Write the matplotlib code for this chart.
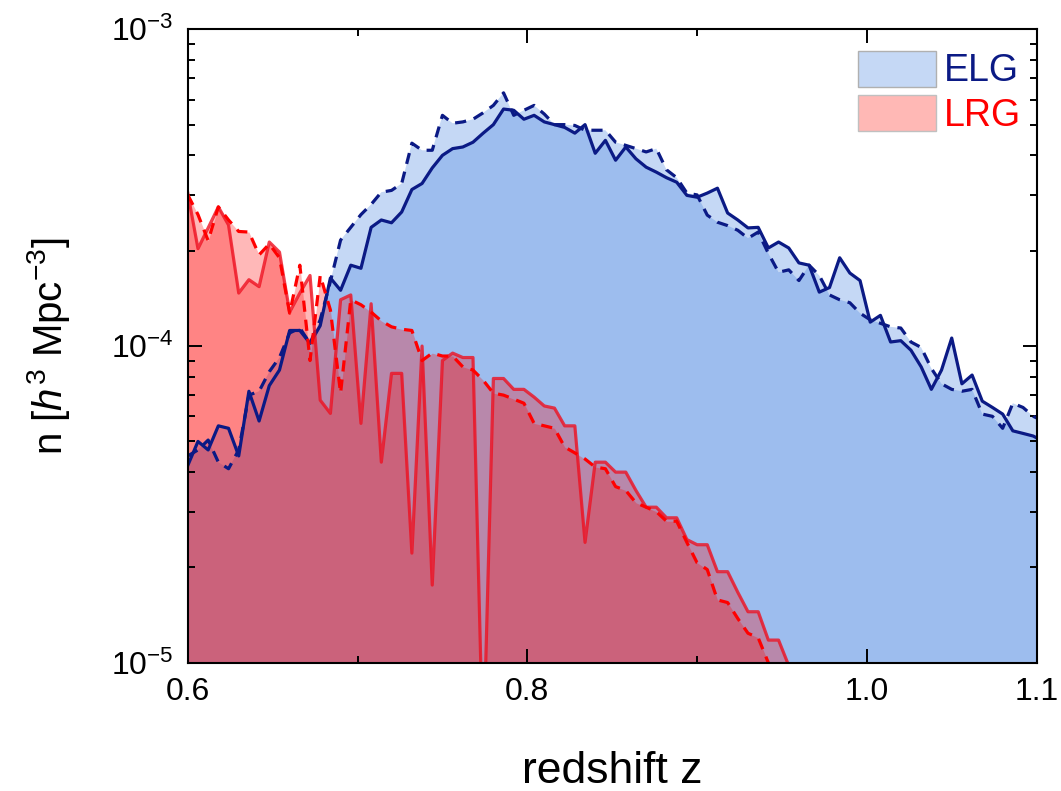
import numpy as np
import matplotlib
matplotlib.use("Agg")
import matplotlib.pyplot as plt
from matplotlib.patches import Patch
from matplotlib.ticker import FixedLocator, NullFormatter

plt.rcParams['font.family'] = ['Liberation Sans', 'DejaVu Sans']
plt.rcParams['mathtext.fontset'] = 'custom'
plt.rcParams['mathtext.rm'] = 'Liberation Sans'
plt.rcParams['mathtext.it'] = 'Liberation Sans:italic'

# redshift grid (bin width 0.006)
z = np.round(0.6 + 0.006 * np.arange(85), 4)

# number densities in units of 1e-4 h^3 Mpc^-3
elg_solid = [0.42, 0.50, 0.47, 0.56, 0.55, 0.45, 0.72, 0.58, 0.75, 0.84,
             1.12, 1.12, 1.02, 1.16, 1.64, 1.50, 1.80, 1.76, 2.37, 2.50,
             2.45, 2.65, 3.12, 3.26, 3.65, 4.00, 4.20, 4.25, 4.40, 4.70,
             5.00, 5.60, 5.55, 5.20, 5.35, 5.10, 5.00, 4.90, 4.70, 5.00,
             4.06, 4.46, 3.86, 4.25, 3.90, 3.67, 3.54, 3.40, 3.29, 2.99,
             2.95, 3.04, 3.15, 2.63, 2.50, 2.36, 2.37, 2.04, 2.13, 2.04,
             1.83, 1.80, 1.48, 1.53, 1.90, 1.70, 1.61, 1.19, 1.25, 1.03,
             1.04, 0.97, 0.86, 0.73, 0.84, 1.06, 0.76, 0.81, 0.67, 0.64,
             0.61, 0.54, 0.53, 0.52, 0.50]
elg_dash = [0.45, 0.47, 0.505, 0.43, 0.41, 0.47, 0.70, 0.72, 0.83, 0.92,
            1.10, 1.14, 1.02, 1.21, 1.60, 2.16, 2.37, 2.60, 2.80, 3.06,
            3.10, 3.26, 4.37, 4.15, 4.15, 5.35, 5.05, 5.10, 5.20, 5.45,
            5.75, 6.30, 5.35, 5.55, 5.75, 5.40, 5.00, 5.00, 4.97, 4.80,
            4.80, 4.80, 4.40, 4.30, 4.20, 4.10, 4.20, 3.60, 3.40, 3.04,
            3.00, 2.59, 2.46, 2.40, 2.32, 2.19, 2.29, 1.96, 1.71, 1.74,
            1.61, 1.80, 1.67, 1.45, 1.40, 1.37, 1.27, 1.21, 1.18, 1.15,
            1.14, 1.03, 0.99, 0.85, 0.76, 0.73, 0.72, 0.73, 0.61, 0.60,
            0.55, 0.66, 0.64, 0.60, 0.58]
lrg_solid = [3.04, 2.03, 2.36, 2.75, 2.41, 1.47, 1.62, 1.54, 2.13, 1.98,
             1.28, 1.47, 1.67, 0.675, 0.613, 1.40, 1.45, 0.57, 1.36, 0.43,
             0.82, 0.82, 0.222, 1.00, 0.176, 0.90, 0.95, 0.92, 0.92, 0.05,
             0.79, 0.79, 0.73, 0.73, 0.69, 0.647, 0.637, 0.56, 0.56, 0.24,
             0.43, 0.43, 0.40, 0.40, 0.35, 0.31, 0.31, 0.287, 0.287, 0.245,
             0.236, 0.236, 0.194, 0.194, 0.167, 0.145, 0.145, 0.118, 0.118, 0.098,
             0.085, 0.07, 0.06]
lrg_dash = [3.00, 2.60, 2.15, 2.75, 2.50, 2.30, 2.29, 1.94, 2.10, 1.90,
            1.27, 1.80, 0.90, 1.67, 1.30, 0.71, 1.40, 1.35, 1.28, 1.20,
            1.15, 1.13, 1.12, 0.90, 0.95, 0.93, 0.93, 0.86, 0.84, 0.78,
            0.71, 0.70, 0.68, 0.66, 0.57, 0.56, 0.55, 0.48, 0.46, 0.44,
            0.415, 0.41, 0.36, 0.35, 0.32, 0.31, 0.30, 0.28, 0.28, 0.24,
            0.207, 0.197, 0.158, 0.155, 0.138, 0.124, 0.12, 0.10, 0.095, 0.10,
            0.085, 0.07, 0.06]

scale = 1e-4
floor = 1e-6

fig = plt.figure(figsize=(10.61, 7.91), dpi=100)
ax = fig.add_axes([0.177, 0.162, 0.8, 0.801])

elg_col = '#4481df'
line_elg = '#0b1a85'
lrg_col = '#ff0000'

ze = z[:len(elg_solid)]
zl = z[:len(lrg_solid)]
es = np.array(elg_solid) * scale
ed = np.array(elg_dash) * scale
ls = np.array(lrg_solid) * scale
ld = np.array(lrg_dash) * scale

# ELG
ax.fill_between(ze, ed, floor, color=elg_col, alpha=0.31, lw=0)
ax.fill_between(ze, es, floor, color=elg_col, alpha=0.31, lw=0)
ax.plot(ze, es, color=line_elg, lw=2.3)
ax.plot(ze, ed, color=line_elg, lw=2.3, ls=(0, (3.5, 2.5)))

# LRG
ax.fill_between(zl, ld, floor, color=lrg_col, alpha=0.28, lw=0)
ax.fill_between(zl, ls, floor, color=lrg_col, alpha=0.28, lw=0)
ax.plot(zl, ls, color='#ee1020', lw=2.3, alpha=0.8)
ax.plot(zl, ld, color=lrg_col, lw=2.3, ls=(0, (3.5, 2.5)))

ax.set_yscale('log')
ax.set_xlim(0.6, 1.1)
ax.set_ylim(1e-5, 1e-3)

ax.set_xticks([0.6, 0.8, 1.0, 1.1])
ax.set_xticklabels(['0.6', '0.8', '1.0', '1.1'])
ax.xaxis.set_minor_locator(FixedLocator([0.7, 0.9]))
ax.yaxis.set_minor_formatter(NullFormatter())

ax.tick_params(which='both', direction='in', top=True, right=True,
               labelsize=23, width=1.4, pad=10)
ax.tick_params(which='major', length=10)
ax.tick_params(which='minor', length=5)
for s in ax.spines.values():
    s.set_linewidth(1.5)

ax.set_xlabel('redshift z', fontsize=32, labelpad=32)
ax.set_ylabel('n [$h^3$ Mpc$^{-3}$]', fontsize=29, labelpad=28)

handles = [Patch(facecolor='#c5d8f5', edgecolor='#b0b0b0', lw=1),
           Patch(facecolor='#ffb8b5', edgecolor='#c0c0c0', lw=1)]
leg = ax.legend(handles, ['ELG', 'LRG'], loc='upper right', frameon=False,
                fontsize=27, handlelength=2.1, handleheight=1.1,
                handletextpad=0.2, labelspacing=0.15, borderaxespad=0.0,
                borderpad=0.3, bbox_to_anchor=(0.995, 0.984))
leg.get_texts()[0].set_color('#0b1a85')
leg.get_texts()[1].set_color('#ff0000')

fig.savefig('out.png', dpi=100)
